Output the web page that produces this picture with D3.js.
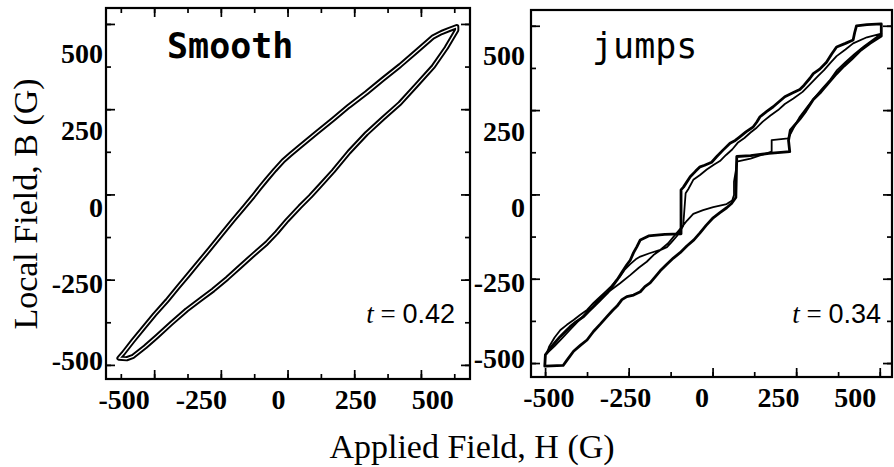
<!DOCTYPE html>
<html>
<head>
<meta charset="utf-8">
<script src="https://cdn.jsdelivr.net/npm/d3@7"></script>
<style>
  html, body { margin: 0; padding: 0; background: #fff; }
  svg { display: block; }
</style>
</head>
<body>
<svg id="chart" width="894" height="467"></svg>
<script>
// ---- axis values (gauss) ----
const xTickLabels = [-500, -250, 0, 250, 500];
const yTickLabels = [-500, -250, 0, 250, 500];
const smoothXTicks = [-509, -401, -293, -185, -77, 31, 139, 247, 355, 463, 571];
const smoothXMajor = [-401, -185, 31, 247, 463];
const jumpsXTicks = [-511, -374, -238, -101, 36, 172, 309, 446, 582];
const jumpsXMajor = [-511, -238, 36, 309, 582];
const yTicks = [598, 459, 320, 181, 42, -97, -236, -375, -514];
const yMajor = [598, 320, 42, -236, -514];

// ---- smooth sample, t = 0.42: [H, B] ----
const smoothDown = [
  [579, 589], [555, 580], [530, 570], [503, 556], [450, 510], [395, 462], [340, 418],
  [287, 374], [230, 330], [179, 287], [125, 243], [71, 198], [40, 172], [17, 152],
  [-10, 122], [-37, 90], [-60, 62], [-80, 36], [-110, 0], [-145, -42], [-180, -85],
  [-220, -135], [-253, -175], [-290, -220], [-325, -262], [-360, -305], [-400, -350],
  [-436, -394], [-470, -436], [-501, -476], [-515, -492]
];
const smoothUp = [
  [-515, -492], [-490, -494], [-469, -486], [-430, -455], [-393, -422], [-345, -378],
  [-296, -335], [-250, -300], [-210, -270], [-165, -232], [-123, -194], [-80, -155],
  [-37, -117], [-4, -82], [30, -42], [71, 2], [105, 36], [136, 70], [179, 118],
  [230, 180], [287, 241], [340, 290], [395, 339], [450, 400], [503, 459], [545, 520],
  [579, 578]
];

// ---- flux-jump sample, t = 0.34: [H, B] ----
const jumpsOuterDown = [
  [587, 604], [540, 602], [506, 598], [500, 575], [495, 551], [470, 540], [441, 528],
  [425, 505], [408, 478], [386, 455], [365, 440], [354, 425], [335, 402], [321, 388],
  [300, 378], [272, 364], [250, 345], [234, 331], [212, 315], [191, 298], [180, 280],
  [169, 265], [145, 248], [125, 232], [110, 220], [93, 211], [70, 188], [49, 166],
  [33, 148], [10, 138], [-5, 133], [-20, 118], [-37, 100], [-50, 80], [-59, 66],
  [-67, 57], [-67, -88], [-120, -90], [-173, -95], [-200, -108], [-211, -130],
  [-222, -150], [-233, -175], [-244, -190], [-260, -215], [-276, -240], [-292, -262],
  [-309, -284], [-330, -305], [-353, -328], [-370, -345], [-385, -361], [-410, -378],
  [-429, -394], [-445, -410], [-462, -427], [-480, -448], [-494, -465], [-510, -487],
  [-512, -524]
];
const jumpsOuterUp = [
  [-512, -524], [-452, -522], [-440, -505], [-418, -475], [-395, -455], [-374, -438],
  [-353, -410], [-330, -385], [-309, -361], [-290, -340], [-276, -326], [-260, -305],
  [-244, -295], [-222, -290], [-200, -279], [-185, -262], [-168, -250], [-150, -228],
  [-135, -210], [-115, -190], [-92, -168], [-70, -150], [-48, -128], [-25, -108],
  [-5, -85], [15, -60], [38, -35], [60, -18], [82, -2], [98, 12], [112, 32],
  [115, 167], [160, 170], [220, 177], [288, 183], [284, 220], [290, 254], [321, 290],
  [340, 316], [365, 355], [390, 380], [415, 410], [441, 440], [465, 465], [490, 488],
  [517, 515], [550, 540], [587, 564]
];
const jumpsInnerDown = [
  [587, 572], [540, 560], [495, 540], [470, 520], [441, 498], [420, 475], [400, 452],
  [380, 432], [354, 405], [330, 380], [300, 358], [272, 340], [250, 320], [225, 302],
  [200, 282], [180, 262], [160, 246], [140, 228], [118, 212], [100, 190], [80, 172],
  [60, 152], [40, 140], [17, 124], [-5, 106], [-27, 90], [-43, 60], [-52, 46],
  [-60, -62], [-81, -96], [-100, -118], [-113, -132], [-135, -142], [-157, -158],
  [-179, -180], [-205, -200], [-233, -224], [-266, -251], [-298, -275], [-331, -300],
  [-355, -328], [-380, -352], [-405, -378], [-430, -405], [-455, -432], [-480, -458],
  [-505, -482]
];
const jumpsInnerUp = [
  [-505, -482], [-498, -460], [-480, -430], [-461, -405], [-440, -388], [-418, -372],
  [-396, -355], [-374, -339], [-352, -315], [-331, -295], [-315, -280], [-298, -264],
  [-282, -245], [-266, -229], [-250, -205], [-233, -188], [-215, -172], [-200, -163],
  [-170, -152], [-135, -141], [-110, -120], [-85, -90], [-60, -60], [-48, -45],
  [-27, -22], [5, -10], [38, 0], [60, 5], [82, 10], [100, 22], [106, 40], [106, 84],
  [112, 120], [115, 150], [160, 160], [229, 183], [229, 221], [283, 227], [300, 260],
  [321, 298], [345, 330], [370, 362], [395, 392], [420, 420], [441, 450], [470, 478],
  [500, 505], [530, 530], [560, 552], [587, 572]
];

const xDomain = [-557, 622];
const yDomain = [-560, 650];

const svg = d3.select("#chart");
svg.append("rect").attr("width", 894).attr("height", 467).attr("fill", "#fff");

const panels = [
  {
    box: { left: 106, right: 470, top: 8, bottom: 379 },
    xTicks: smoothXTicks, xMajor: smoothXMajor, topTicks: true,
    yLabelPad: 3, title: "Smooth", titleWeight: "bold", titleX: 61,
    tLabel: "0.42", tOffset: 15,
    loops: [{ down: smoothDown, up: smoothUp, hollow: true }]
  },
  {
    box: { left: 531, right: 892, top: 10, bottom: 377 },
    xTicks: jumpsXTicks, xMajor: jumpsXMajor, topTicks: false,
    yLabelPad: 6, title: "jumps", titleWeight: "normal", titleX: 61,
    tLabel: "0.34", tOffset: 11,
    loops: [
      { down: jumpsOuterDown, up: jumpsOuterUp, width: 2.8 },
      { down: jumpsInnerDown, up: jumpsInnerUp, width: 1.8 }
    ]
  }
];

function tickMarks(g, axisFn, scale, values, size, transform) {
  const a = g.append("g")
    .attr("transform", transform)
    .call(axisFn(scale).tickValues(values).tickSize(size).tickFormat(""));
  a.select(".domain").remove();
  a.selectAll("line").attr("stroke", "#000").attr("stroke-width", 1.7);
}

function styleLabels(a) {
  a.select(".domain").remove();
  a.selectAll("text")
    .attr("fill", "#000")
    .attr("font-family", "'Liberation Serif', 'Times New Roman', serif")
    .attr("font-size", 28)
    .attr("font-weight", "bold");
}

panels.forEach(p => {
  const b = p.box;
  const x = d3.scaleLinear().domain(xDomain).range([b.left, b.right]);
  const y = d3.scaleLinear().domain(yDomain).range([b.bottom, b.top]);
  const g = svg.append("g");

  // inward tick marks on the frame
  const bottomT = `translate(0,${b.bottom})`, topT = `translate(0,${b.top})`;
  const leftT = `translate(${b.left},0)`, rightT = `translate(${b.right},0)`;
  tickMarks(g, d3.axisBottom, x, p.xTicks, -5, bottomT);
  tickMarks(g, d3.axisBottom, x, p.xMajor, -9, bottomT);
  if (p.topTicks) {
    tickMarks(g, d3.axisTop, x, p.xTicks, -5, topT);
    tickMarks(g, d3.axisTop, x, p.xMajor, -9, topT);
  }
  tickMarks(g, d3.axisLeft, y, yTicks, -5, leftT);
  tickMarks(g, d3.axisLeft, y, yMajor, -9, leftT);
  tickMarks(g, d3.axisRight, y, yTicks, -5, rightT);
  tickMarks(g, d3.axisRight, y, yMajor, -9, rightT);

  // tick labels
  styleLabels(g.append("g").attr("transform", bottomT)
    .call(d3.axisBottom(x).tickValues(xTickLabels).tickSize(0).tickPadding(10).tickFormat(d => String(d))));
  styleLabels(g.append("g").attr("transform", leftT)
    .call(d3.axisLeft(y).tickValues(yTickLabels).tickSize(0).tickPadding(p.yLabelPad).tickFormat(d => String(d))));

  // hysteresis loops
  const line = d3.line().x(d => x(d[0])).y(d => y(d[1]));
  p.loops.forEach(L => {
    const pts = L.down.concat(L.up.slice(1));
    const dPath = line(pts) + "Z";
    if (L.hollow) {
      // traced twice per cycle: drawn as a doubled (hollow) stroke
      g.append("path").attr("d", dPath).attr("fill", "none")
        .attr("stroke", "#000").attr("stroke-width", 5.2).attr("stroke-linejoin", "round");
      g.append("path").attr("d", dPath).attr("fill", "none")
        .attr("stroke", "#fff").attr("stroke-width", 1.3).attr("stroke-linejoin", "round");
    } else {
      g.append("path").attr("d", dPath).attr("fill", "none")
        .attr("stroke", "#000").attr("stroke-width", L.width).attr("stroke-linejoin", "round");
    }
  });

  // frame
  g.append("rect")
    .attr("x", b.left).attr("y", b.top)
    .attr("width", b.right - b.left).attr("height", b.bottom - b.top)
    .attr("fill", "none").attr("stroke", "#000").attr("stroke-width", 2.2);

  // panel title
  g.append("text")
    .attr("x", b.left + p.titleX).attr("y", 58)
    .attr("font-family", "'DejaVu Sans Mono', monospace")
    .attr("font-size", 35).attr("font-weight", p.titleWeight)
    .attr("fill", "#000")
    .text(p.title);

  // reduced temperature
  const t = g.append("text")
    .attr("x", b.right - p.tOffset).attr("y", 323)
    .attr("text-anchor", "end").attr("fill", "#000")
    .attr("font-size", 27);
  t.append("tspan").attr("font-family", "'Liberation Serif', serif").attr("font-style", "italic").text("t");
  t.append("tspan").attr("font-family", "'Liberation Serif', serif").text(" = ");
  t.append("tspan").attr("font-family", "'Liberation Sans', Arial, sans-serif").text(p.tLabel);
});

// axis titles
svg.append("text")
  .attr("x", 472).attr("y", 458)
  .attr("text-anchor", "middle")
  .attr("font-family", "'Liberation Serif', 'Times New Roman', serif")
  .attr("font-size", 34).attr("fill", "#000")
  .text("Applied Field, H (G)");

svg.append("text")
  .attr("transform", "translate(37,204) rotate(-90)")
  .attr("text-anchor", "middle")
  .attr("font-family", "'Liberation Serif', 'Times New Roman', serif")
  .attr("font-size", 34).attr("fill", "#000")
  .text("Local Field, B (G)");
</script>
</body>
</html>
